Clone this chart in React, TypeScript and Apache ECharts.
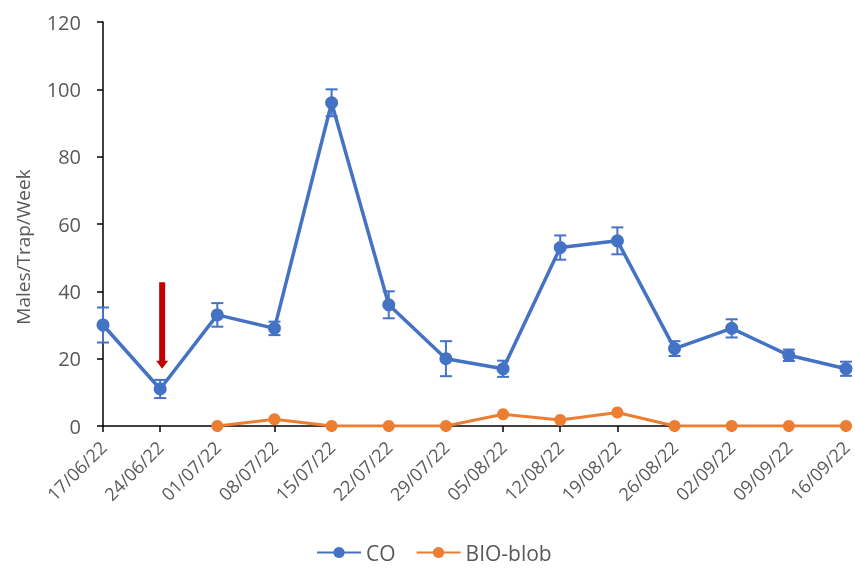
import React, { useEffect, useRef } from "react";
import * as echarts from "echarts";

const dates = [
  "17/06/22", "24/06/22", "01/07/22", "08/07/22", "15/07/22", "22/07/22", "29/07/22",
  "05/08/22", "12/08/22", "19/08/22", "26/08/22", "02/09/22", "09/09/22", "16/09/22",
];
const coValues = [30, 11, 33, 29, 96, 36, 20, 17, 53, 55, 23, 29, 21, 17];
const coErrors = [5.2, 2.7, 3.5, 2, 4, 4, 5.2, 2.4, 3.6, 4, 2.2, 2.7, 1.7, 2.1];
const bioValues: (number | null)[] = [null, null, 0, 2, 0, 0, 0, 3.5, 1.8, 4, 0, 0, 0, 0];
const yTicks = { min: 0, max: 120, interval: 20 };
const yAxisTitle = "Males/Trap/Week";
const arrowMark = [{ date: "24/06/22", from: 42.7, to: 17 }];

const BLUE = "#4472C4";
const ORANGE = "#ED7D31";
const GRAY = "#595959";
const FONT = "Open Sans";

export default function App() {
  const ref = useRef<HTMLDivElement>(null);
  useEffect(() => {
    if (!ref.current) return;
    const chart = echarts.init(ref.current, null, { renderer: "svg" });
    const errData = dates.map((d, i) => [i, coValues[i] - coErrors[i], coValues[i] + coErrors[i]]);
    const arrowData = arrowMark.map((a) => [dates.indexOf(a.date), a.from, a.to]);
    chart.setOption({
      animation: false,
      textStyle: { fontFamily: FONT },
      grid: { left: 103, right: 9, top: 22, bottom: 143 },
      graphic: [
        {
          type: "text",
          x: 23,
          y: 247,
          rotation: Math.PI / 2,
          style: {
            text: yAxisTitle,
            fill: GRAY,
            fontSize: 19,
            fontFamily: FONT,
            align: "center",
            verticalAlign: "middle",
          },
        },
      ],
      legend: {
        top: 542,
        left: 316,
        itemWidth: 44,
        itemHeight: 14,
        itemGap: 20,
        padding: 0,
        textStyle: { color: GRAY, fontSize: 21, fontFamily: FONT },
        data: ["CO", "BIO-blob"],
      },
      xAxis: {
        type: "category",
        data: dates,
        boundaryGap: false,
        axisLine: { lineStyle: { color: "#000", width: 1.5 } },
        axisTick: { show: true, inside: false, length: 6, lineStyle: { color: "#000", width: 1.5 } },
        axisLabel: { rotate: 45, color: GRAY, fontSize: 18, margin: 18, fontFamily: FONT, interval: 0 },
        splitLine: { show: false },
      },
      yAxis: {
        type: "value",
        min: yTicks.min,
        max: yTicks.max,
        interval: yTicks.interval,
        axisLine: { show: true, lineStyle: { color: "#000", width: 1.5 } },
        axisTick: { show: true, length: 6, lineStyle: { color: "#000", width: 1.5 } },
        axisLabel: { color: GRAY, fontSize: 20, margin: 22, fontFamily: FONT },
        splitLine: { show: false },
      },
      series: [
        {
          name: "BIO-blob",
          type: "line",
          data: bioValues,
          symbol: "circle",
          symbolSize: 12,
          z: 2,
          lineStyle: { color: ORANGE, width: 3 },
          itemStyle: { color: ORANGE },
        },
        {
          name: "CO",
          type: "line",
          data: coValues,
          symbol: "circle",
          symbolSize: 13,
          z: 4,
          lineStyle: { color: BLUE, width: 3.5 },
          itemStyle: { color: BLUE },
        },
        {
          name: "CO-err",
          type: "custom",
          z: 5,
          data: errData,
          renderItem: (params: any, api: any) => {
            const x = api.value(0);
            const lo = api.coord([x, api.value(1)]);
            const hi = api.coord([x, api.value(2)]);
            const w = 6;
            const st = { stroke: BLUE, lineWidth: 2 };
            return {
              type: "group",
              children: [
                { type: "line", shape: { x1: lo[0], y1: lo[1], x2: hi[0], y2: hi[1] }, style: st },
                { type: "line", shape: { x1: lo[0] - w, y1: lo[1], x2: lo[0] + w, y2: lo[1] }, style: st },
                { type: "line", shape: { x1: hi[0] - w, y1: hi[1], x2: hi[0] + w, y2: hi[1] }, style: st },
              ],
            };
          },
        },
        {
          name: "arrow",
          type: "custom",
          z: 6,
          data: arrowData,
          renderItem: (params: any, api: any) => {
            const x = api.value(0);
            const top = api.coord([x, api.value(1)]);
            const tip = api.coord([x, api.value(2)]);
            const cx = top[0] + 2;
            const headH = 8;
            const shaftW = 6;
            const headW = 12;
            return {
              type: "group",
              children: [
                {
                  type: "rect",
                  shape: { x: cx - shaftW / 2, y: top[1], width: shaftW, height: tip[1] - top[1] - headH + 1 },
                  style: { fill: "#C00000" },
                },
                {
                  type: "polygon",
                  shape: { points: [[cx - headW / 2, tip[1] - headH], [cx + headW / 2, tip[1] - headH], [cx, tip[1]]] },
                  style: { fill: "#C00000" },
                },
              ],
            };
          },
        },
      ],
    });
    return () => chart.dispose();
  }, []);
  return <div ref={ref} style={{ position: "fixed", left: 0, top: 0, width: 855, height: 569 }} />;
}
